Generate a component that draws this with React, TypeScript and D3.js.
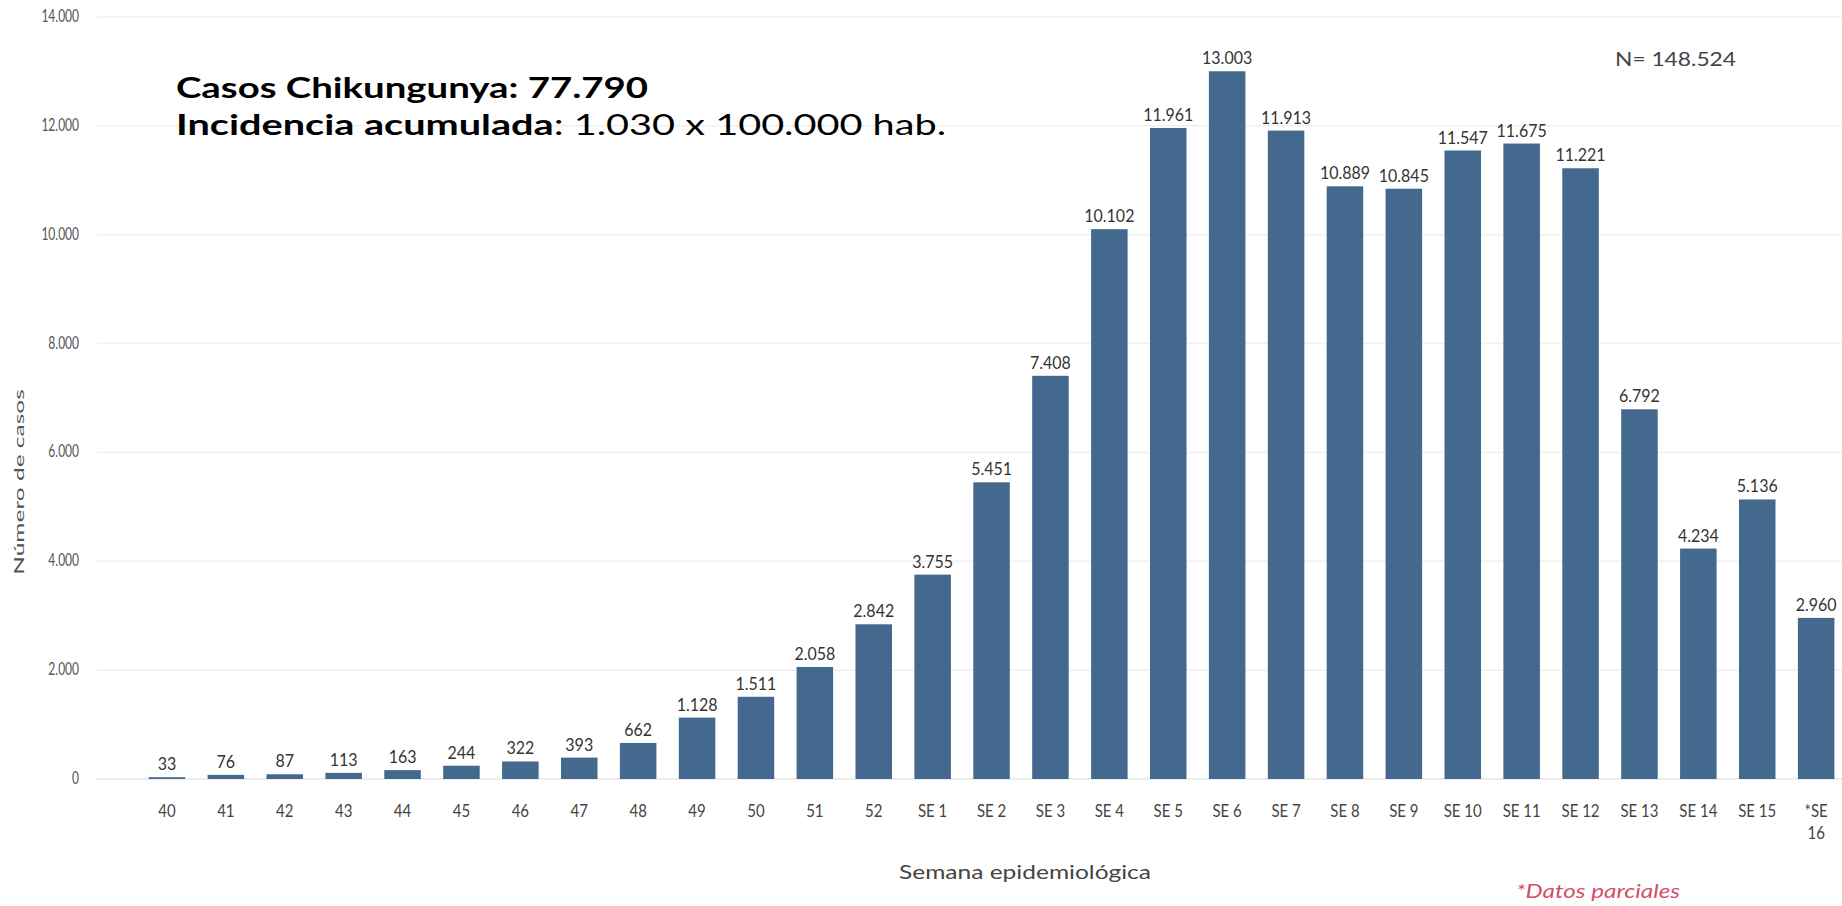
import React from "react";
import * as d3 from "d3";

const categories = [
  "40", "41", "42", "43", "44", "45", "46", "47", "48", "49", "50", "51", "52",
  "SE 1", "SE 2", "SE 3", "SE 4", "SE 5", "SE 6", "SE 7", "SE 8", "SE 9", "SE 10",
  "SE 11", "SE 12", "SE 13", "SE 14", "SE 15", "*SE 16",
];
const cases = [
  33, 76, 87, 113, 163, 244, 322, 393, 662, 1128, 1511, 2058, 2842,
  3755, 5451, 7408, 10102, 11961, 13003, 11913, 10889, 10845, 11547,
  11675, 11221, 6792, 4234, 5136, 2960,
];
const yTicks = [0, 2000, 4000, 6000, 8000, 10000, 12000, 14000];

const W = 1842;
const H = 906;
const FONT = "Lato, 'Open Sans', sans-serif";
const BAR = "#44698f";

const fmt = (v: number) => {
  const s = String(v);
  return s.length > 3 ? s.slice(0, s.length - 3) + "." + s.slice(-3) : s;
};

export default function App() {
  const x = d3
    .scaleBand<string>()
    .domain(categories)
    .range([137.5, 137.5 + 29 * 58.9])
    .paddingInner(0.38)
    .paddingOuter(0.19);
  const y = d3.scaleLinear().domain([0, 14000]).range([779, 17]);
  const bw = x.bandwidth();

  const st = (tx: number, ty: number, s: number) =>
    `translate(${tx},${ty}) scale(1,${s})`;

  return (
    <svg
      width={W}
      height={H}
      style={{ position: "absolute", left: 0, top: 0, background: "#fff" }}
      fontFamily={FONT}
    >
      {/* gridlines */}
      {yTicks.map((t) => (
        <line
          key={"g" + t}
          x1={97}
          x2={W}
          y1={y(t)}
          y2={y(t)}
          stroke={t === 0 ? "#e6e6e6" : "#f0f0f0"}
          strokeWidth={1.5}
        />
      ))}
      {/* y tick labels */}
      {yTicks.map((t) => (
        <text
          key={"yt" + t}
          transform={st(79, y(t) + 5, 1.4)}
          textAnchor="end"
          fontSize={12}
          fill="#555"
        >
          {fmt(t)}
        </text>
      ))}
      {/* y title */}
      <text
        transform={`translate(24,482) scale(1,1.75) rotate(-90)`}
        textAnchor="middle"
        fontSize={14}
        fill="#555"
      >
        Número de casos
      </text>
      {/* bars */}
      {categories.map((c, i) => (
        <rect
          key={"b" + c}
          x={x(c)}
          y={y(cases[i])}
          width={bw}
          height={y(0) - y(cases[i])}
          fill={BAR}
        />
      ))}
      {/* value labels */}
      {categories.map((c, i) => (
        <text
          key={"v" + c}
          transform={st((x(c) as number) + bw / 2, y(cases[i]) - 7, 1.1)}
          textAnchor="middle"
          fontSize={16}
          fill="#333"
        >
          {fmt(cases[i])}
        </text>
      ))}
      {/* x tick labels */}
      {categories.map((c) => {
        const cx = (x(c) as number) + bw / 2;
        if (c.startsWith("*")) {
          const parts = c.split(" ");
          return (
            <g key={"xt" + c}>
              <text transform={st(cx, 817, 1.15)} textAnchor="middle" fontSize={15} fill="#444">
                {parts[0]}
              </text>
              <text transform={st(cx, 839, 1.15)} textAnchor="middle" fontSize={15} fill="#444">
                {parts[1]}
              </text>
            </g>
          );
        }
        return (
          <text key={"xt" + c} transform={st(cx, 817, 1.15)} textAnchor="middle" fontSize={15} fill="#444">
            {c}
          </text>
        );
      })}
      {/* x title */}
      <text
        transform={st(1025, 879, 1.15)}
        textAnchor="middle"
        fontSize={16}
        fill="#444"
        textLength={252}
        lengthAdjust="spacingAndGlyphs"
      >
        Semana epidemiológica
      </text>
      {/* partial data note */}
      <text
        transform={st(1598, 898, 1.1)}
        textAnchor="middle"
        fontSize={18}
        fontStyle="italic"
        fill="#d4506a"
        textLength={164}
        lengthAdjust="spacingAndGlyphs"
      >
        *Datos parciales
      </text>
      {/* N total */}
      <text
        transform={st(1615, 66, 1.1)}
        fontSize={18}
        fill="#444"
        textLength={121}
        lengthAdjust="spacingAndGlyphs"
      >
        N= 148.524
      </text>
      {/* overlay annotation */}
      <text
        x={176}
        y={98}
        fontSize={29}
        fontWeight="bold"
        fill="#000"
        textLength={472}
        lengthAdjust="spacingAndGlyphs"
      >
        Casos Chikungunya: 77.790
      </text>
      <text
        x={176}
        y={135}
        fontSize={29}
        fill="#000"
        textLength={770}
        lengthAdjust="spacingAndGlyphs"
      >
        <tspan fontWeight="bold">Incidencia acumulada</tspan>
        <tspan>: 1.030 x 100.000 hab.</tspan>
      </text>
    </svg>
  );
}
